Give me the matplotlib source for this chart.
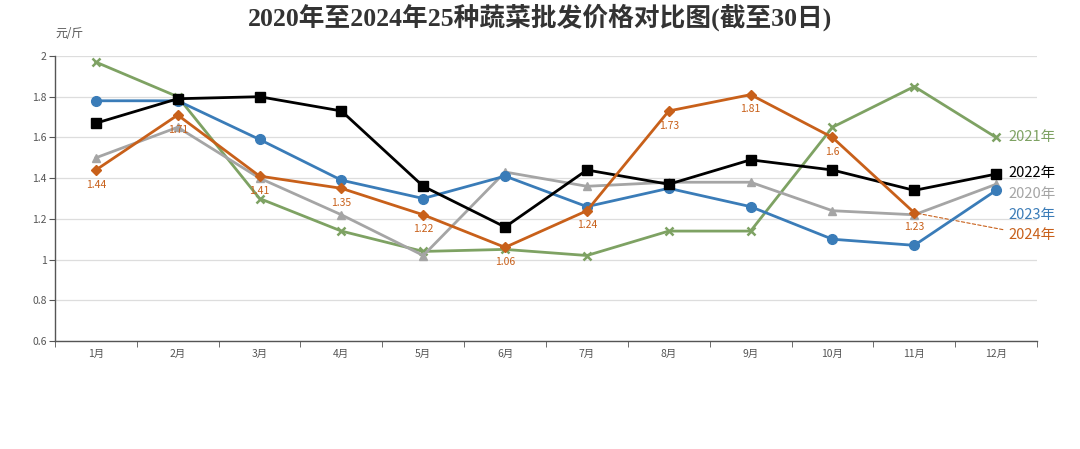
import matplotlib
matplotlib.use("Agg")
import matplotlib.pyplot as plt

plt.rcParams['font.family'] = ['Noto Sans CJK SC', 'DejaVu Sans']

months = ["1月", "2月", "3月", "4月", "5月", "6月", "7月", "8月", "9月", "10月", "11月", "12月"]
y2020 = [1.50, 1.65, 1.40, 1.22, 1.02, 1.43, 1.36, 1.38, 1.38, 1.24, 1.22, 1.37]
y2021 = [1.97, 1.80, 1.30, 1.14, 1.04, 1.05, 1.02, 1.14, 1.14, 1.65, 1.85, 1.60]
y2022 = [1.67, 1.79, 1.80, 1.73, 1.36, 1.16, 1.44, 1.37, 1.49, 1.44, 1.34, 1.42]
y2023 = [1.78, 1.78, 1.59, 1.39, 1.30, 1.41, 1.26, 1.35, 1.26, 1.10, 1.07, 1.34]
y2024 = [1.44, 1.71, 1.41, 1.35, 1.22, 1.06, 1.24, 1.73, 1.81, 1.60, 1.23]
yticks = [0.6, 0.8, 1.0, 1.2, 1.4, 1.6, 1.8, 2.0]
ytick_labels = ["0.6", "0.8", "1", "1.2", "1.4", "1.6", "1.8", "2"]

c2020 = "#a5a5a5"
c2021 = "#7ea263"
c2022 = "#000000"
c2023 = "#3a7cb8"
c2024 = "#c8601a"

fig = plt.figure(figsize=(10.8, 4.49), dpi=100)
ax = fig.add_axes([0.0509, 0.2405, 0.9093, 0.6348])

x = list(range(12))
lw = 2.0
ax.plot(x, y2021, color=c2021, lw=lw, marker='x', ms=6, mew=1.8, zorder=3)
ax.plot(x, y2020, color=c2020, lw=lw, marker='^', ms=6, zorder=3)
ax.plot(x, y2023, color=c2023, lw=lw, marker='o', ms=7, zorder=4)
ax.plot(x, y2022, color=c2022, lw=lw, marker='s', ms=6.5, zorder=4)
ax.plot(x[:len(y2024)], y2024, color=c2024, lw=lw, marker='D', ms=5, zorder=5)

for i, v in enumerate(y2024):
    ax.annotate(f"{v:g}", (i, v), xytext=(0, -10.5), textcoords='offset points',
                ha='center', va='center', fontsize=7.5, color=c2024, zorder=6)

# end labels
ax.annotate("2021年", (11, y2021[-1]), xytext=(11.15, 1.60), ha='left', va='center',
            fontsize=10.5, color=c2021, annotation_clip=False)
ax.annotate("2022年", (11, y2022[-1]), xytext=(11.15, 1.423), ha='left', va='center',
            fontsize=10.5, color=c2022, annotation_clip=False)
ax.annotate("2020年", (11, y2020[-1]), xytext=(11.15, 1.32), ha='left', va='center',
            fontsize=10.5, color=c2020, annotation_clip=False)
ax.annotate("2023年", (11, y2023[-1]), xytext=(11.15, 1.22), ha='left', va='center',
            fontsize=10.5, color=c2023, annotation_clip=False)
ax.annotate("2024年", (10, y2024[-1]), xytext=(11.15, 1.12), ha='left', va='center',
            fontsize=10.5, color=c2024, annotation_clip=False,
            arrowprops=dict(arrowstyle='-', color=c2024, lw=0.8, ls=(0, (3, 2)),
                            shrinkA=2, shrinkB=0))

ax.set_xlim(-0.5, 11.5)
ax.set_ylim(0.6, 2.0)
ax.set_yticks(yticks)
ax.set_yticklabels(ytick_labels)
ax.set_xticks(x)
ax.set_xticklabels(months)
ax.set_xticks([i - 0.5 for i in range(13)], minor=True)
ax.tick_params(axis='x', which='major', length=0, labelsize=7.5, colors='#555555', pad=6)
ax.tick_params(axis='x', which='minor', length=4, color='#555555')
ax.tick_params(axis='y', length=4, labelsize=7.5, colors='#555555', pad=2)
ax.grid(axis='y', color='#dddddd', lw=0.9, zorder=0)
for s in ['top', 'right']:
    ax.spines[s].set_visible(False)
for s in ['left', 'bottom']:
    ax.spines[s].set_color('#555555')
    ax.spines[s].set_linewidth(1.0)

fig.text(0.051, 0.925, "元/斤", fontsize=8.5, color='#555555', ha='left', va='center')
fig.text(0.5, 0.962, "2020年至2024年25种蔬菜批发价格对比图(截至30日)", fontsize=18.5,
         fontweight='bold', color='#333333', ha='center', va='center',
         family=['Liberation Serif', 'Noto Sans CJK SC'])

fig.savefig("out.png", dpi=100)
